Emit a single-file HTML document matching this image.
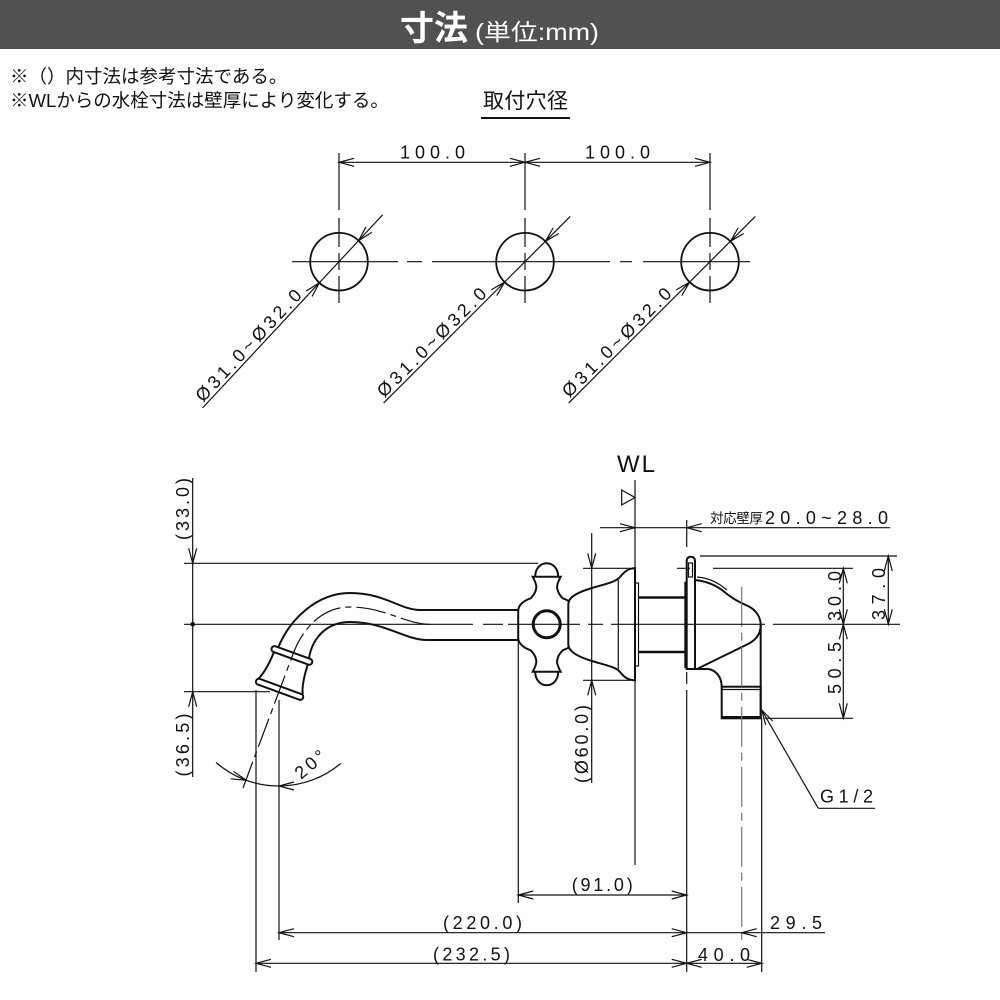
<!DOCTYPE html>
<html><head><meta charset="utf-8"><style>
html,body{margin:0;padding:0;background:#fff;}
svg{display:block}
.t{font-family:"Liberation Sans",sans-serif;font-size:18px;fill:#111}
.j{font-family:"Liberation Sans","Noto Sans CJK JP",sans-serif;}
.l{stroke:#111;stroke-width:1.2;fill:none}
.o{stroke:#111;stroke-width:2;fill:none}
.w{stroke:#111;stroke-width:2;fill:#fff}
.a{stroke:#111;stroke-width:1.2;fill:none}
.c{stroke:#111;stroke-width:1.2;fill:none}
.g{stroke:#777;stroke-width:1.2;fill:none}
</style></head><body>
<svg width="1000" height="1000" viewBox="0 0 1000 1000" xmlns="http://www.w3.org/2000/svg">
<!-- header -->
<rect x="0" y="0" width="1000" height="49" fill="#515151"/>
<text x="400" y="40" class="j" font-size="34" font-weight="bold" fill="#fff">寸法</text>
<text x="475" y="40" class="j" font-size="23" fill="#fff" textLength="124" lengthAdjust="spacingAndGlyphs">(単位:mm)</text>

<!-- notes -->
<text x="10" y="83" class="j" font-size="18.5" fill="#111">※（）内寸法は参考寸法である。</text>
<text x="10" y="107" class="j" font-size="18.5" fill="#111">※WLからの水栓寸法は壁厚により変化する。</text>
<text x="483" y="108" class="j" font-size="21" fill="#111" textLength="85">取付穴径</text>
<line x1="481" y1="118" x2="570" y2="118" stroke="#111" stroke-width="2"/>

<!-- ===== holes ===== -->
<line class="l" x1="339" y1="162.3" x2="710" y2="162.3"/>
<path class="a" d="M-15,-4L0,0L-15,4" transform="translate(339,162.3) rotate(180)"/>
<path class="a" d="M-15,-4L0,0L-15,4" transform="translate(525,162.3)"/>
<path class="a" d="M-15,-4L0,0L-15,4" transform="translate(525,162.3) rotate(180)"/>
<path class="a" d="M-15,-4L0,0L-15,4" transform="translate(710,162.3)"/>
<text class="t" x="400" y="158.5" textLength="65">100.0</text>
<text class="t" x="585" y="158.5" textLength="65">100.0</text>

<g class="l">
<path d="M339,153V210M339,218V247M339,253V270M339,276V303"/>
<path d="M525,153V210M525,218V247M525,253V270M525,276V303"/>
<path d="M710,153V210M710,218V247M710,253V270M710,276V303"/>
<path d="M292,261.7H398M407,261.7H422M432,261.7H610M620,261.7H632M643,261.7H750"/>
</g>
<g stroke="#111" stroke-width="1.8" fill="none">
<circle cx="339" cy="261.7" r="28.8"/>
<circle cx="525" cy="261.7" r="28.8"/>
<circle cx="710" cy="261.7" r="28.8"/>
</g>
<!-- leaders -->
<line class="l" x1="202.6" y1="407.9" x2="382.6" y2="214.9"/>
<path class="a" d="M-15,-4L0,0L-15,4" transform="translate(319.4,282.75) rotate(-47)"/>
<path class="a" d="M-15,-4L0,0L-15,4" transform="translate(358.6,240.65) rotate(133)"/>
<text class="t" transform="translate(203.1,402.9) rotate(-47)" textLength="146">Ø31.0~Ø32.0</text>

<line class="l" x1="383.6" y1="403.1" x2="570.3" y2="216.4"/>
<path class="a" d="M-15,-4L0,0L-15,4" transform="translate(504.6,282.1) rotate(-45)"/>
<path class="a" d="M-15,-4L0,0L-15,4" transform="translate(545.4,241.3) rotate(135)"/>
<text class="t" transform="translate(384.3,398.2) rotate(-45)" textLength="146">Ø31.0~Ø32.0</text>

<line class="l" x1="568.6" y1="403.1" x2="755.3" y2="216.4"/>
<path class="a" d="M-15,-4L0,0L-15,4" transform="translate(689.6,282.1) rotate(-45)"/>
<path class="a" d="M-15,-4L0,0L-15,4" transform="translate(730.4,241.3) rotate(135)"/>
<text class="t" transform="translate(569.3,398.2) rotate(-45)" textLength="146">Ø31.0~Ø32.0</text>

<!-- ===== side view ===== -->
<!-- left dims 33.0 / 36.5 -->
<line class="l" x1="192.7" y1="478" x2="192.7" y2="777"/>
<line class="l" x1="184" y1="563.3" x2="538" y2="563.3"/>
<line class="l" x1="184" y1="691.7" x2="270" y2="691.7"/>
<path class="a" d="M-15,-4L0,0L-15,4" transform="translate(192.7,563.3) rotate(90)"/>
<path class="a" d="M-15,-4L0,0L-15,4" transform="translate(192.7,691.7) rotate(-90)"/>
<circle cx="192.7" cy="624.3" r="2.3" fill="#111"/>
<text class="t" transform="translate(183,509) rotate(-90)" text-anchor="middle" dominant-baseline="central" textLength="62">(33.0)</text>
<text class="t" transform="translate(183,745) rotate(-90)" text-anchor="middle" dominant-baseline="central" textLength="63">(36.5)</text>

<!-- spout -->
<path class="o" d="M518.3,610 L420,610 C400,610 385,593 350,593 C318,593 290,618 278,648"/>
<path class="o" d="M518.3,640 L427,640 C405,640 385,622 350,622 C325,622 312,640 309,658"/>
<g transform="translate(279.6,689.3) rotate(20)">
<path class="o" d="M-18,-33 C-18.5,-20 -20,-10 -23.5,-3"/>
<path class="o" d="M18,-33 C18.5,-20 20,-10 23.5,-3"/>
<rect class="w" x="-21.5" y="-39" width="43" height="6" rx="3"/>
<rect class="w" x="-25" y="-3" width="50" height="6" rx="3"/>
</g>
<path class="c" d="M430,624.3 C405,624.3 385,607 350,607 C321,607 302,630 293,654 L243,788" stroke-dasharray="30,5,6,5"/>

<!-- nozzle ext lines + angle -->
<line class="l" x1="256" y1="690" x2="256" y2="972"/>
<line class="l" x1="279" y1="700" x2="279" y2="940"/>
<path class="l" d="M340.7,763.5 A96,96 0 0 1 216,762.5"/>
<path class="a" d="M-15,-4L0,0L-15,4" transform="translate(279,786) rotate(180)"/>
<path class="a" d="M-15,-4L0,0L-15,4" transform="translate(246.2,780.2) rotate(20)"/>
<text class="t" transform="translate(301,780) rotate(-40)" textLength="34">20°</text>

<!-- handle cross -->
<g transform="translate(546.7,624.3)">
<path class="w" d="M-14,-47.5 C-11,-42 -10,-38 -10.5,-36 C-11,-32 -14,-28 -16,-26 C-22,-24 -28,-20 -28.5,-14 L-28.5,14 C-28,20 -22,24 -16,26 C-14,28 -11,32 -10.5,36 C-10,38 -11,42 -14,47.5 L14,47.5 C11,42 10,38 10.5,36 C11,32 14,28 16,26 C22,24 28,20 28.5,14 L28.5,-14 C28,-20 22,-24 16,-26 C14,-28 11,-32 10.5,-36 C10,-38 11,-42 14,-47.5 Z"/>
<path class="o" d="M-11.5,-47.5 C-11.5,-56 -6,-61 0,-61 C6,-61 11.5,-56 11.5,-47.5"/>
<path class="o" d="M-11.5,47.5 C-11.5,56 -6,61 0,61 C6,61 11.5,56 11.5,47.5"/>
<circle cx="0" cy="0" r="13.5" stroke="#111" stroke-width="3" fill="none"/>
</g>

<!-- escutcheon -->
<path class="w" d="M635,568.3 C628,568.3 624,572 620,577 C616,582 605,584 592,588 C582,591 575,594 571,598 C568.5,600.5 568.3,603 568.3,606 L568.3,643 C568.3,646 568.5,648 571,650.5 C575,655 582,658 592,661 C605,665 616,667 620,672 C624,677 628,680.3 635,680.3 Z"/>
<line class="l" x1="618.3" y1="580" x2="618.3" y2="669"/>

<!-- ø60 dim -->
<line class="l" x1="591.7" y1="533" x2="591.7" y2="783"/>
<line class="l" x1="583" y1="568.3" x2="630" y2="568.3"/>
<line class="l" x1="583" y1="680.3" x2="630" y2="680.3"/>
<path class="a" d="M-15,-4L0,0L-15,4" transform="translate(591.7,568.3) rotate(90)"/>
<path class="a" d="M-15,-4L0,0L-15,4" transform="translate(591.7,680.3) rotate(-90)"/>
<text class="t" transform="translate(582,744) rotate(-90)" text-anchor="middle" dominant-baseline="central" textLength="78">(Ø60.0)</text>

<!-- WL -->
<text class="t" x="617" y="472" style="font-size:24px" textLength="38">WL</text>
<polygon points="621.7,490 635,497.5 621.7,505" class="l"/>
<line class="l" x1="635" y1="480" x2="635" y2="865"/>

<!-- wall thickness dim -->
<line class="l" x1="600" y1="527.7" x2="890" y2="527.7"/>
<path class="a" d="M-15,-4L0,0L-15,4" transform="translate(635,527.7)"/>
<path class="a" d="M-15,-4L0,0L-15,4" transform="translate(686.7,527.7) rotate(180)"/>
<line class="l" x1="686.7" y1="520" x2="686.7" y2="547"/>
<text x="710" y="523" class="j" font-size="13.5" fill="#111" textLength="53">対応壁厚</text>
<text class="t" x="765" y="524" textLength="123">20.0~28.0</text>

<!-- small flange / pipe -->
<rect x="635" y="583" width="3.5" height="83" class="l" fill="#fff"/>
<line x1="638.5" y1="597.5" x2="685" y2="597.5" stroke="#111" stroke-width="2.5"/>
<line x1="638.5" y1="652" x2="685" y2="652" stroke="#111" stroke-width="2.5"/>

<!-- right plate -->
<path class="o" d="M686.7,669 L686.7,561 Q686.7,556.7 691,556.7 Q695,556.7 695,561 L695,669 Z"/>
<line x1="685.8" y1="581.7" x2="685.8" y2="668.3" stroke="#111" stroke-width="3"/>
<rect x="688.5" y="563" width="4" height="14" class="l"/>

<!-- elbow -->
<path class="o" d="M695,580 C705,581 715,585 722,590 C730,597 738,602 748,606 C756,610 760.7,617 760.7,625 C760.7,634 756,640 748,644 L698,668.5"/>
<path class="l" d="M697,577 C710,578 720,584 727,590"/>
<path class="o" d="M695,669 L708,669 C716,670 721.7,677 721.7,687"/>
<path class="o" d="M760.7,625 L760.7,718.3"/>
<rect x="721.7" y="686.7" width="39" height="31.6" class="o"/>
<line class="l" x1="721.7" y1="689.5" x2="760.7" y2="689.5"/>
<line x1="721.7" y1="717.3" x2="760.7" y2="717.3" stroke="#111" stroke-width="2.5"/>

<!-- right dims -->
<path class="l" d="M677,568.3H690M713,568.3H853"/>
<line class="l" x1="700" y1="556" x2="897" y2="556"/>
<line class="l" x1="765" y1="718.3" x2="853" y2="718.3"/>
<line class="l" x1="843.3" y1="568.3" x2="843.3" y2="718.3"/>
<line class="l" x1="888.3" y1="556" x2="888.3" y2="624.3"/>
<path class="a" d="M-15,-4L0,0L-15,4" transform="translate(843.3,568.3) rotate(-90)"/>
<path class="a" d="M-15,-4L0,0L-15,4" transform="translate(843.3,624.3) rotate(90)"/>
<path class="a" d="M-15,-4L0,0L-15,4" transform="translate(843.3,624.3) rotate(-90)"/>
<path class="a" d="M-15,-4L0,0L-15,4" transform="translate(843.3,718.3) rotate(90)"/>
<path class="a" d="M-15,-4L0,0L-15,4" transform="translate(888.3,556) rotate(-90)"/>
<path class="a" d="M-15,-4L0,0L-15,4" transform="translate(888.3,624.3) rotate(90)"/>
<text class="t" transform="translate(835,596) rotate(-90)" text-anchor="middle" dominant-baseline="central" textLength="50">30.0</text>
<text class="t" transform="translate(835,668) rotate(-90)" text-anchor="middle" dominant-baseline="central" textLength="52">50.5</text>
<text class="t" transform="translate(879,594) rotate(-90)" text-anchor="middle" dominant-baseline="central" textLength="52">37.0</text>

<!-- G1/2 -->
<line class="l" x1="818.3" y1="808.3" x2="761.7" y2="710"/>
<line class="l" x1="818.3" y1="808.3" x2="875" y2="808.3"/>
<path class="a" d="M-15,-4L0,0L-15,4" transform="translate(761.7,710) rotate(-120)"/>
<text class="t" x="820" y="802.5" textLength="53">G1/2</text>

<!-- vertical ext lines -->
<path class="l" d="M686.7,672V684M686.7,690V972"/>
<line class="l" x1="761.7" y1="718" x2="761.7" y2="972"/>
<line class="l" x1="518.3" y1="640" x2="518.3" y2="903"/>
<path class="g" d="M741.7,586.7V940" stroke-dasharray="40,6,8,6"/>

<!-- main centerline -->
<path class="c" d="M184,624.3H473M483,624.3H503M508,624.3H580M588,624.3H603M611,624.3H765M773,624.3H900"/>

<!-- bottom dims -->
<line class="l" x1="518.3" y1="895" x2="686.7" y2="895"/>
<path class="a" d="M-15,-4L0,0L-15,4" transform="translate(518.3,895) rotate(180)"/>
<path class="a" d="M-15,-4L0,0L-15,4" transform="translate(686.7,895)"/>
<text class="t" x="571.7" y="891" textLength="61">(91.0)</text>

<line class="l" x1="279" y1="932.7" x2="825" y2="932.7"/>
<path class="a" d="M-15,-4L0,0L-15,4" transform="translate(279,932.7) rotate(180)"/>
<path class="a" d="M-15,-4L0,0L-15,4" transform="translate(686.7,932.7)"/>
<path class="a" d="M-15,-4L0,0L-15,4" transform="translate(741.7,932.7) rotate(180)"/>
<text class="t" x="443" y="929" textLength="79">(220.0)</text>
<text class="t" x="770" y="929" textLength="52">29.5</text>

<line class="l" x1="256" y1="963.3" x2="761.7" y2="963.3"/>
<path class="a" d="M-15,-4L0,0L-15,4" transform="translate(256,963.3) rotate(180)"/>
<path class="a" d="M-15,-4L0,0L-15,4" transform="translate(686.7,963.3)"/>
<path class="a" d="M-15,-4L0,0L-15,4" transform="translate(686.7,963.3) rotate(180)"/>
<path class="a" d="M-15,-4L0,0L-15,4" transform="translate(761.7,963.3)"/>
<text class="t" x="433" y="960.5" textLength="77">(232.5)</text>
<text class="t" x="698" y="961" textLength="52">40.0</text>
</svg>
</body></html>
